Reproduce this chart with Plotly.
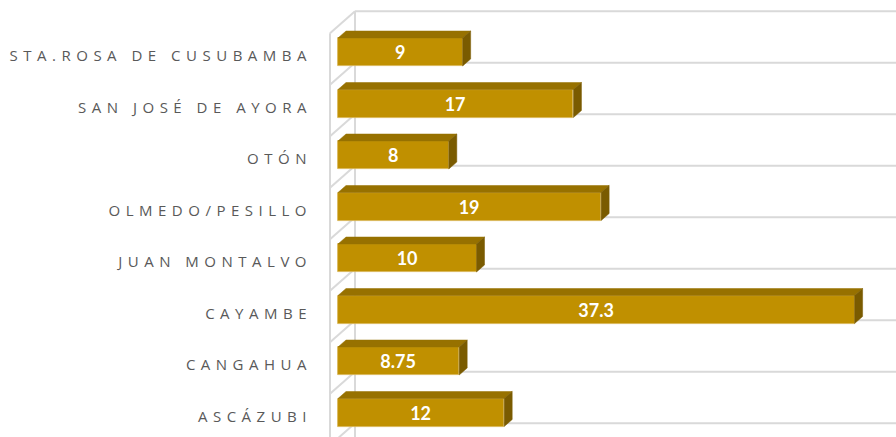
import plotly.graph_objects as go

categories = ["STA.ROSA DE CUSUBAMBA", "SAN JOSÉ DE AYORA", "OTÓN", "OLMEDO/PESILLO",
              "JUAN MONTALVO", "CAYAMBE", "CANGAHUA", "ASCÁZUBI"]
values = [9, 17, 8, 19, 10, 37.3, 8.75, 12]
labels = ["9", "17", "8", "19", "10", "37.3", "8.75", "12"]

W, H = 896, 437
ML = 315
SX = 13.85   # px per x unit
SY = 51.5    # px per category
X0PX = 338
Y0PX = 52

xr = [(ML - X0PX) / SX, (W - X0PX) / SX]
yr = [(H - Y0PX) / SY, (0 - Y0PX) / SY]

bw = 28 / SY
DX, DY = 8 / SX, -7 / SY          # bar depth
FX, FY = -8 / SX, 7 / SY          # wall front plane
BX, BY = 17 / SX, -15 / SY        # back wall plane

C_FRONT = "#C09000"
C_TOP = "#977100"
C_SIDE = "#7A5B00"
C_WALL = "#D9D9D9"

fig = go.Figure()

ys = list(range(len(categories)))

# walls / category gridlines as shapes below traces
shapes = []
yb_bottom = yr[0]
shapes.append(dict(type="line", xref="x", yref="y", x0=FX, x1=FX, y0=-0.5 + FY, y1=yb_bottom + 1,
                   line=dict(color=C_WALL, width=2), layer="below"))
shapes.append(dict(type="line", xref="x", yref="y", x0=BX, x1=BX, y0=-0.5 + BY, y1=yb_bottom + 1,
                   line=dict(color=C_WALL, width=2), layer="below"))
for i in range(len(categories) + 1):
    b = i - 0.5
    shapes.append(dict(type="line", xref="x", yref="y", x0=FX, y0=b + FY, x1=BX, y1=b + BY,
                       line=dict(color=C_WALL, width=2), layer="below"))
    shapes.append(dict(type="line", xref="x", yref="y", x0=BX, y0=b + BY, x1=xr[1] + 1, y1=b + BY,
                       line=dict(color=C_WALL, width=2), layer="below"))

# front faces
fig.add_trace(go.Bar(
    y=ys, x=values, orientation="h", width=bw,
    marker=dict(color=C_FRONT, line=dict(color="#D8B450", width=0.8)),
    text=labels, textposition="inside", insidetextanchor="middle", textangle=0,
    textfont=dict(color="white", size=18, family="Lato", weight="bold"),
    hoverinfo="skip", showlegend=False,
))

# top and side faces
for y, v in zip(ys, values):
    top = y - bw / 2
    bot = y + bw / 2
    fig.add_trace(go.Scatter(
        x=[0, v, v + DX, DX, 0], y=[top, top, top + DY, top + DY, top],
        fill="toself", fillcolor=C_TOP, mode="lines", line=dict(color=C_TOP, width=0.5),
        hoverinfo="skip", showlegend=False))
    fig.add_trace(go.Scatter(
        x=[v, v + DX, v + DX, v, v], y=[top, top + DY, bot + DY, bot, top],
        fill="toself", fillcolor=C_SIDE, mode="lines", line=dict(color=C_SIDE, width=0.5),
        hoverinfo="skip", showlegend=False))

fig.update_layout(
    width=W, height=H,
    margin=dict(l=ML, r=0, t=0, b=0, autoexpand=False),
    paper_bgcolor="white", plot_bgcolor="white",
    shapes=shapes,
    xaxis=dict(range=xr, visible=False, fixedrange=True, automargin=False),
    yaxis=dict(range=yr, tickmode="array", tickvals=[y + 0.08 for y in ys], ticktext=categories,
               showgrid=False, zeroline=False, showline=False, ticks="",
               tickfont=dict(family="Open Sans", size=15, color="#595959"),
               ticklabelstandoff=2, fixedrange=True, automargin=False),
    bargap=0,
)

post = ("var s=document.createElement('style');"
        "s.innerHTML='body{margin:0;overflow:hidden}.ytick text{letter-spacing:5.5px}';"
        "document.head.appendChild(s);")
fig.write_html("out.html", post_script=post, config={"displayModeBar": False})
